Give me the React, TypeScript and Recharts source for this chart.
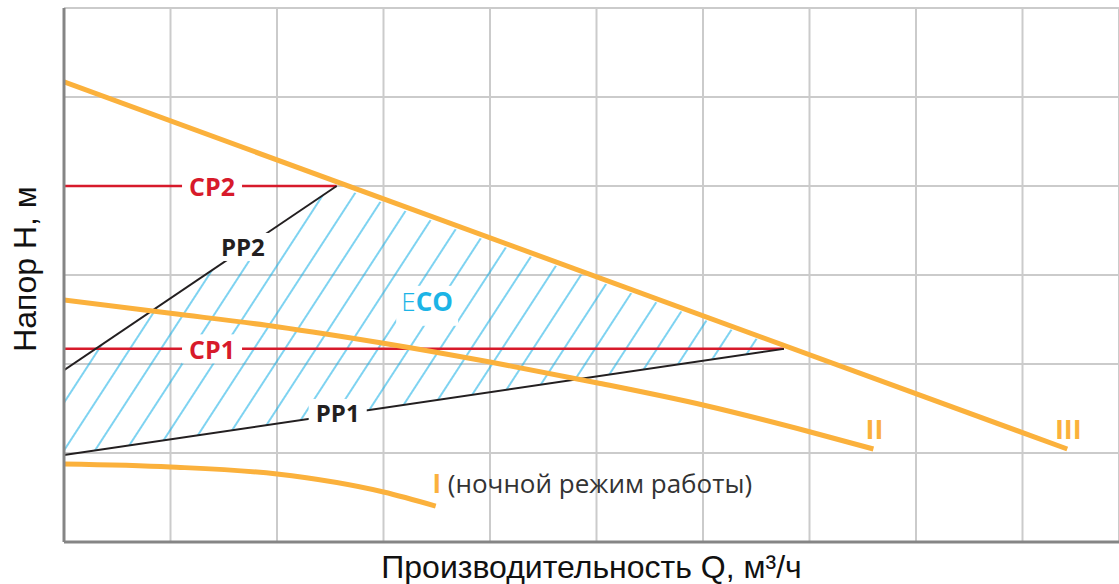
import React from "react";
import {
  Area,
  CartesianGrid,
  ComposedChart,
  Line,
  Scatter,
  XAxis,
  YAxis,
} from "recharts";

// grid steps on both axes
const Q_TICKS = [0, 1, 2, 3, 4, 5, 6, 7, 8, 9];
const H_TICKS = [0, 1, 2, 3, 4, 5, 6];

// pump curves (speed I, II, III)
const curveI = [
  { q: 0, h: 0.876 },
  { q: 1, h: 0.843 },
  { q: 2, h: 0.764 },
  { q: 3, h: 0.562 },
  { q: 3.49, h: 0.404 },
];
const curveII = [
  { q: 0, h: 2.719 },
  { q: 1, h: 2.57 },
  { q: 2, h: 2.419 },
  { q: 3, h: 2.233 },
  { q: 4, h: 2.022 },
  { q: 5, h: 1.79 },
  { q: 6, h: 1.539 },
  { q: 7, h: 1.239 },
  { q: 7.6, h: 1.045 },
];
const curveIII = [
  { q: 0, h: 5.169 },
  { q: 9.42, h: 1.045 },
];

// constant / proportional pressure modes
const cp1 = [
  { q: 0, h: 2.17 },
  { q: 6.76, h: 2.17 },
];
const cp2 = [
  { q: 0, h: 4.0 },
  { q: 2.56, h: 4.0 },
];
const pp1 = [
  { q: 0, h: 0.978 },
  { q: 6.76, h: 2.17 },
];
const pp2 = [
  { q: 0, h: 1.93 },
  { q: 2.56, h: 4.0 },
];

// ECO zone, low/high head
const ecoZone = [
  { q: 0, range: [0.978, 1.93] },
  { q: 2.56, range: [1.43, 4.0] },
  { q: 6.76, range: [2.17, 2.17] },
];

const labelPoints = [
  { q: 1.39, h: 4.0, text: "CP2", kind: "cp" },
  { q: 1.39, h: 2.17, text: "CP1", kind: "cp" },
  { q: 1.68, h: 3.315, text: "PP2", kind: "pp" },
  { q: 2.57, h: 1.45, text: "PP1", kind: "pp" },
  { q: 3.41, h: 2.71, text: "ECO", kind: "eco" },
  { q: 7.61, h: 1.28, text: "II", kind: "roman" },
  { q: 9.43, h: 1.28, text: "III", kind: "roman" },
  { q: 3.46, h: 0.663, text: "I", kind: "night" },
];

const NIGHT_NOTE = " (ночной режим работы)";
const X_TITLE = "Производительность Q, м³/ч";
const Y_TITLE = "Напор H, м";

const ORANGE = "#fbb13c";
const RED = "#d71a2b";
const BLACK = "#231f20";
const CYAN = "#1cb4e6";
const HATCH = "#14aee6";
const LABEL_FONT = "'Open Sans', 'Noto Sans', sans-serif";
const TITLE_FONT = "'Liberation Sans', Arial, sans-serif";

const LABEL_STYLE: Record<string, { fill: string; size: number; weight: number; bg: boolean }> = {
  cp: { fill: RED, size: 25, weight: 700, bg: true },
  pp: { fill: BLACK, size: 24, weight: 700, bg: true },
  eco: { fill: CYAN, size: 26, weight: 700, bg: true },
  roman: { fill: ORANGE, size: 27, weight: 700, bg: false },
  night: { fill: ORANGE, size: 26, weight: 700, bg: false },
};

const NoTick = () => <g />;

function ChartLabel(props: any) {
  const { cx, cy, payload } = props;
  if (cx == null || cy == null) return null;
  const st = LABEL_STYLE[payload.kind];
  const w = payload.text.length * st.size * 0.64 + 12;
  const h = st.size + 4;

  if (payload.kind === "night") {
    return (
      <text
        x={cx}
        y={cy}
        dominantBaseline="central"
        fontFamily={LABEL_FONT}
        fontSize={st.size}
      >
        <tspan fill={ORANGE} fontWeight={700}>
          {payload.text}
        </tspan>
        <tspan fill="#333333" fontWeight={400}>
          {NIGHT_NOTE}
        </tspan>
      </text>
    );
  }

  return (
    <g>
      {st.bg && (
        <rect
          x={cx - w / 2}
          y={cy - h / 2}
          width={w}
          height={payload.kind === "eco" ? h + 10 : h}
          fill="#ffffff"
        />
      )}
      <text
        x={cx}
        y={cy}
        textAnchor="middle"
        dominantBaseline="central"
        fontFamily={LABEL_FONT}
        fontSize={st.size}
        fontWeight={st.weight}
        fill={st.fill}
      >
        {payload.kind === "eco" ? (
          <>
            <tspan fontWeight={300}>E</tspan>
            <tspan fontWeight={700}>CO</tspan>
          </>
        ) : (
          payload.text
        )}
      </text>
    </g>
  );
}

function YTitle(props: any) {
  const { x, y, height } = props.viewBox;
  const cx = x + 25;
  const cy = y + height / 2 - 6;
  return (
    <text
      x={cx}
      y={cy}
      transform={`rotate(-90 ${cx} ${cy})`}
      textAnchor="middle"
      dominantBaseline="central"
      fontFamily={TITLE_FONT}
      fontSize={32}
      fill="#111111"
    >
      {Y_TITLE}
    </text>
  );
}

export default function App(): React.ReactElement {
  return (
    <div style={{ position: "absolute", left: 0, top: 0 }}>
      <ComposedChart
        width={1119}
        height={584}
        margin={{ top: 8, right: 0, bottom: 0, left: 0 }}
      >
        <defs>
          <pattern
            id="ecoHatch"
            patternUnits="userSpaceOnUse"
            width={26}
            height={26}
            patternTransform="rotate(33)"
          >
            <line x1={13} y1={0} x2={13} y2={26} stroke={HATCH} strokeWidth={1.1} />
          </pattern>
        </defs>
        <CartesianGrid stroke="#cbcbcb" strokeWidth={2} />
        <XAxis
          type="number"
          dataKey="q"
          domain={[0, 9.906]}
          ticks={Q_TICKS}
          allowDataOverflow
          tick={NoTick}
          tickLine={false}
          height={42}
          axisLine={{ stroke: "#858585", strokeWidth: 3 }}
          label={{
            value: X_TITLE,
            position: "insideBottom",
            offset: 6,
            style: { fontFamily: TITLE_FONT, fontSize: 32, fill: "#111111" },
          }}
        />
        <YAxis
          type="number"
          dataKey="h"
          domain={[0, 6]}
          ticks={H_TICKS}
          allowDataOverflow
          tick={NoTick}
          tickLine={false}
          width={64}
          axisLine={{ stroke: "#858585", strokeWidth: 3 }}
          label={{ content: YTitle }}
        />
        <Area
          data={ecoZone}
          dataKey="range"
          type="linear"
          stroke="none"
          fill="url(#ecoHatch)"
          fillOpacity={1}
          isAnimationActive={false}
        />
        <Line data={cp2} dataKey="h" type="linear" stroke={RED} strokeWidth={2.5} dot={false} isAnimationActive={false} />
        <Line data={cp1} dataKey="h" type="linear" stroke={RED} strokeWidth={2.5} dot={false} isAnimationActive={false} />
        <Line data={pp2} dataKey="h" type="linear" stroke={BLACK} strokeWidth={2} dot={false} isAnimationActive={false} />
        <Line data={pp1} dataKey="h" type="linear" stroke={BLACK} strokeWidth={2} dot={false} isAnimationActive={false} />
        <Line data={curveI} dataKey="h" type="monotone" stroke={ORANGE} strokeWidth={5} dot={false} isAnimationActive={false} />
        <Line data={curveII} dataKey="h" type="monotone" stroke={ORANGE} strokeWidth={5} dot={false} isAnimationActive={false} />
        <Line data={curveIII} dataKey="h" type="linear" stroke={ORANGE} strokeWidth={5} dot={false} isAnimationActive={false} />
        <Scatter
          data={labelPoints}
          dataKey="h"
          shape={ChartLabel}
          isAnimationActive={false}
        />
      </ComposedChart>
    </div>
  );
}
